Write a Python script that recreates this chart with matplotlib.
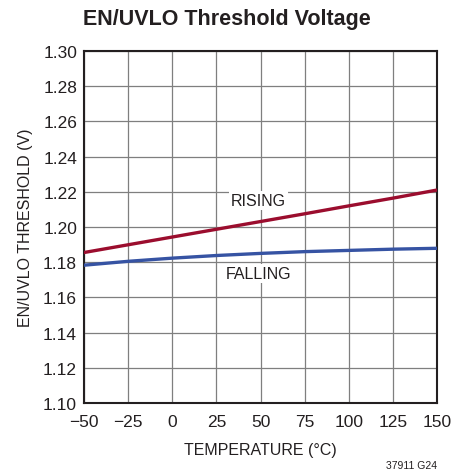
import matplotlib.pyplot as plt
from matplotlib import font_manager

temps = [-50, -25, 0, 25, 50, 75, 100, 125, 150]
rising = [1.1855, 1.1899, 1.1943, 1.1987, 1.2031, 1.2075, 1.2120, 1.2164, 1.2210]
falling = [1.1783, 1.1805, 1.1823, 1.1838, 1.1850, 1.1860, 1.1867, 1.1874, 1.1879]
xticks = [-50, -25, 0, 25, 50, 75, 100, 125, 150]
yticks = [1.10, 1.12, 1.14, 1.16, 1.18, 1.20, 1.22, 1.24, 1.26, 1.28, 1.30]

names = {f.name for f in font_manager.fontManager.ttflist}
fam = 'Liberation Sans Narrow' if 'Liberation Sans Narrow' in names else 'Liberation Sans'
plt.rcParams['font.family'] = [fam, 'DejaVu Sans']

fig = plt.figure(figsize=(4.68, 4.77), dpi=100)
ax = fig.add_axes([84 / 468, 1 - 404 / 477, 353 / 468, 352 / 477])

ax.plot(temps, rising, color='#9b0d2e', lw=2.4, zorder=3)
ax.plot(temps, falling, color='#3653a3', lw=2.4, zorder=3)

ax.set_xlim(-50, 150)
ax.set_ylim(1.10, 1.30)
ax.set_xticks(xticks)
ax.set_xticklabels([str(t).replace('-', '\u2212') for t in xticks])
ax.set_yticks(yticks)
ax.set_yticklabels([f'{v:.2f}' for v in yticks])
ax.tick_params(axis='x', pad=8)
ax.tick_params(length=0, labelsize=12.5, colors='#231f20')
ax.tick_params(axis='y', pad=5)
ax.grid(True, color='#7f7f7f', lw=0.9)
for s in ax.spines.values():
    s.set_linewidth(1.5)
    s.set_color('#231f20')

box = dict(facecolor='white', edgecolor='none', pad=1.5)
ax.text(49, 1.2150, 'RISING', ha='center', va='center', fontsize=11.5, color='#231f20', bbox=box, zorder=2)
ax.text(49, 1.1738, 'FALLING', ha='center', va='center', fontsize=11.5, color='#231f20', bbox=box, zorder=2)

ax.set_xlabel('TEMPERATURE (°C)', fontsize=11.5, color='#231f20', labelpad=9)
ax.set_ylabel('EN/UVLO THRESHOLD (V)', fontsize=11.5, color='#231f20', labelpad=7)

fig.text(83 / 468, 1 - 19 / 477, 'EN/UVLO Threshold Voltage', fontsize=15.5, fontweight='bold',
         color='#231f20', ha='left', va='center')
fig.text(437 / 468, 1 - 466 / 477, '37911 G24', fontsize=7.5, color='#231f20', ha='right', va='center')

fig.savefig('out.png', dpi=100)
